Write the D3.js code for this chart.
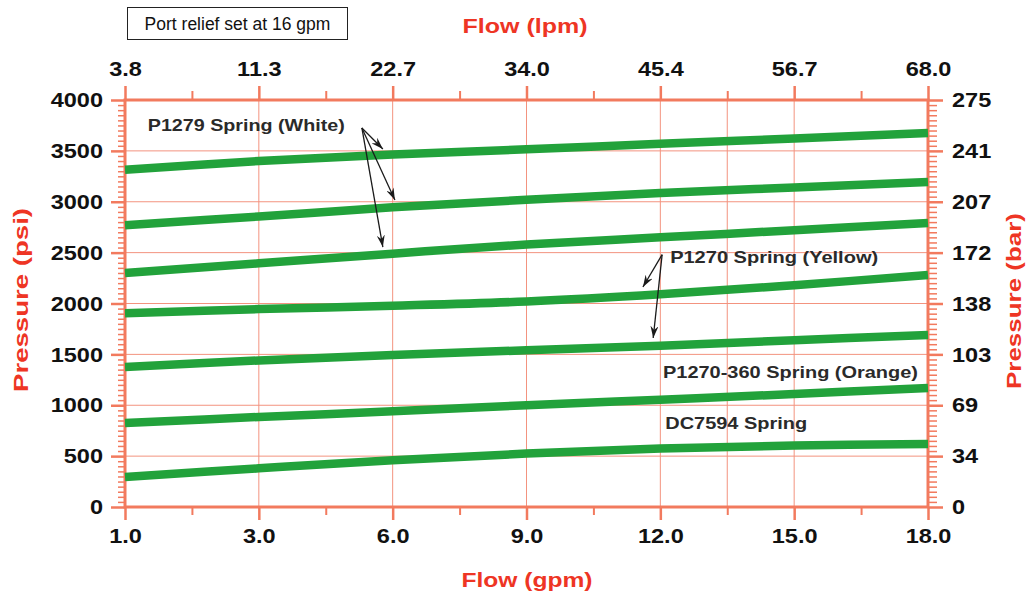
<!DOCTYPE html>
<html><head><meta charset="utf-8">
<script src="https://cdn.jsdelivr.net/npm/d3@7"></script>
<style>
html,body{margin:0;padding:0;background:#fff;}
svg{display:block;font-family:"Liberation Sans",Arial,sans-serif;}
</style></head>
<body><svg id="c" width="1031" height="596"></svg>
<script>
// ---- data ----
const gpmTicks = [1, 3, 6, 9, 12, 15, 18];
const lpmLabels = ["3.8", "11.3", "22.7", "34.0", "45.4", "56.7", "68.0"];
const gpmMinor = [2, 4.5, 7.5, 10.5, 13.5, 16.5];
const gpmExtraGrid = [13.5];
const psiTicks = [0, 500, 1000, 1500, 2000, 2500, 3000, 3500, 4000];
const barLabels = ["0", "34", "69", "103", "138", "172", "207", "241", "275"];
const flowPts = [1, 3, 6, 9, 12, 15, 18];
const p1279High = [3315, 3400, 3465, 3515, 3570, 3622, 3675];
const p1279Mid  = [2770, 2855, 2945, 3020, 3085, 3140, 3195];
const p1279Low  = [2300, 2395, 2490, 2580, 2650, 2720, 2790];
const p1270High = [1905, 1945, 1978, 2020, 2090, 2180, 2280];
const p1270Low  = [1375, 1440, 1495, 1540, 1585, 1640, 1690];
const p1270_360 = [825, 885, 940, 1000, 1055, 1110, 1170];
const dc7594    = [295, 380, 460, 525, 575, 605, 620];
const seriesList = [p1279High, p1279Mid, p1279Low, p1270High, p1270Low, p1270_360, dc7594];
const boxText = "Port relief set at 16 gpm";

// ---- layout ----
const L = 125, R = 928, T = 100, B = 507;
const svg = d3.select("#c");
const step = (R - L) / (gpmTicks.length - 1);
const x = d3.scaleLinear().domain(gpmTicks).range(gpmTicks.map((d, i) => L + i * step));
const y = d3.scaleLinear().domain([0, 4000]).range([B, T]);
const AX = "#f27a5e", GRID = "#f3937f", RED = "#ee3524", GREEN = "#22a23b", TXT = "#2a2a2a";
const FF = '"Liberation Sans",Arial,sans-serif';

function stretch(sel, f) {
  sel.each(function () {
    const w = this.getComputedTextLength();
    d3.select(this).attr("textLength", w * f).attr("lengthAdjust", "spacingAndGlyphs");
  });
}

// gridlines
const g = svg.append("g");
g.selectAll(".hg").data(psiTicks).join("line")
  .attr("x1", L).attr("x2", R).attr("y1", d => y(d)).attr("y2", d => y(d))
  .attr("stroke", GRID).attr("stroke-width", 1);
g.selectAll(".vg").data(gpmTicks.concat(gpmExtraGrid)).join("line")
  .attr("y1", T).attr("y2", B).attr("x1", d => x(d)).attr("x2", d => x(d))
  .attr("stroke", GRID).attr("stroke-width", 1);

// axes
function styleAxis(sel, w) {
  sel.select(".domain").remove();
  sel.selectAll(".tick line").attr("stroke", AX).attr("stroke-width", w);
  sel.selectAll(".tick text").attr("fill", "#111").attr("font-family", FF)
    .attr("font-weight", "bold").attr("font-size", 21);
}
const psiMinor = d3.range(0, 4001, 50).filter(d => d % 500 !== 0);

// left
svg.append("g").attr("transform", `translate(${L},0)`)
  .call(d3.axisLeft(y).tickValues(psiMinor).tickSize(7).tickFormat(""))
  .call(s => styleAxis(s, 1.5));
const la = svg.append("g").attr("transform", `translate(${L},0)`)
  .call(d3.axisLeft(y).tickValues(psiTicks).tickSize(14).tickPadding(8).tickFormat(d3.format("d")))
  .call(s => styleAxis(s, 2.5));
// right
svg.append("g").attr("transform", `translate(${R},0)`)
  .call(d3.axisRight(y).tickValues(psiMinor).tickSize(9).tickFormat(""))
  .call(s => styleAxis(s, 1.5));
const ra = svg.append("g").attr("transform", `translate(${R},0)`)
  .call(d3.axisRight(y).tickValues(psiTicks).tickSize(15).tickPadding(9).tickFormat((d, i) => barLabels[i]))
  .call(s => styleAxis(s, 2.5));
// bottom
svg.append("g").attr("transform", `translate(0,${B})`)
  .call(d3.axisBottom(x).tickValues(gpmMinor).tickSize(8).tickFormat(""))
  .call(s => styleAxis(s, 2));
const ba = svg.append("g").attr("transform", `translate(0,${B})`)
  .call(d3.axisBottom(x).tickValues(gpmTicks).tickSize(13).tickPadding(8).tickFormat(d3.format(".1f")))
  .call(s => styleAxis(s, 2.5));
// top
svg.append("g").attr("transform", `translate(0,${T})`)
  .call(d3.axisTop(x).tickValues(gpmMinor).tickSize(9).tickFormat(""))
  .call(s => styleAxis(s, 2));
const ta = svg.append("g").attr("transform", `translate(0,${T})`)
  .call(d3.axisTop(x).tickValues(gpmTicks).tickSize(14).tickPadding(10).tickFormat((d, i) => lpmLabels[i]))
  .call(s => styleAxis(s, 2.5));

[la, ra, ba, ta].forEach(a => stretch(a.selectAll(".tick text"), 1.12));

// frame
svg.append("rect").attr("x", L).attr("y", T).attr("width", R - L).attr("height", B - T)
  .attr("fill", "none").attr("stroke", AX).attr("stroke-width", 3);

// series
const line = d3.line().x(d => x(d[0])).y(d => y(d[1])).curve(d3.curveCatmullRom.alpha(0.5));
svg.append("g").selectAll("path").data(seriesList).join("path")
  .attr("d", s => line(flowPts.map((f, i) => [f, s[i]])))
  .attr("fill", "none").attr("stroke", GREEN).attr("stroke-width", 8.5);

// titles
function title(txt, tx, ty, rot, w) {
  const t = svg.append("text").text(txt).attr("fill", RED).attr("font-family", FF)
    .attr("font-weight", "bold").attr("font-size", 21).attr("text-anchor", "middle")
    .attr("transform", `translate(${tx},${ty}) rotate(${rot})`);
  t.attr("textLength", w).attr("lengthAdjust", "spacingAndGlyphs");
}
title("Flow (lpm)", 525, 33, 0, 125);
title("Flow (gpm)", 527, 587, 0, 131);
title("Pressure (psi)", 28, 300, -90, 184);
title("Pressure (bar)", 1021, 301, -90, 176);

// port relief box
svg.append("rect").attr("x", 127.5).attr("y", 7.5).attr("width", 220).attr("height", 32)
  .attr("fill", "#fff").attr("stroke", "#222").attr("stroke-width", 1);
svg.append("text").text(boxText).attr("x", 237.5).attr("y", 30).attr("text-anchor", "middle")
  .attr("font-family", FF).attr("font-size", 17.5).attr("fill", "#111");

// annotations (data coords)
const labels = [
  {t: "P1279 Spring (White)", gpm: 1.34, psi: 3695, w: 197},
  {t: "P1270 Spring (Yellow)", gpm: 12.22, psi: 2398, w: 208},
  {t: "P1270-360 Spring (Orange)", gpm: 12.06, psi: 1268, w: 255},
  {t: "DC7594 Spring", gpm: 12.11, psi: 767, w: 142}
];
svg.append("g").selectAll("text").data(labels).join("text")
  .attr("x", d => x(d.gpm)).attr("y", d => y(d.psi)).text(d => d.t)
  .attr("font-family", FF).attr("font-weight", "bold").attr("font-size", 17).attr("fill", TXT)
  .attr("textLength", d => d.w).attr("lengthAdjust", "spacingAndGlyphs");

svg.append("defs").append("marker").attr("id", "ah").attr("viewBox", "0 0 12 8")
  .attr("refX", 12).attr("refY", 4).attr("markerWidth", 12).attr("markerHeight", 8)
  .attr("markerUnits", "userSpaceOnUse").attr("orient", "auto")
  .append("path").attr("d", "M0,0 L12,4 L0,8 L4,4 Z").attr("fill", "#1a1a1a");

const arrows = [
  {from: [5.31, 3725], to: [5.78, 3518]},
  {from: [5.31, 3725], to: [6.05, 3017]},
  {from: [5.31, 3725], to: [5.78, 2555]},
  {from: [12.04, 2480], to: [11.61, 2162]},
  {from: [12.04, 2480], to: [11.84, 1661]}
];
svg.append("g").selectAll("line").data(arrows).join("line")
  .attr("x1", d => x(d.from[0])).attr("y1", d => y(d.from[1]))
  .attr("x2", d => x(d.to[0])).attr("y2", d => y(d.to[1]))
  .attr("stroke", "#1a1a1a").attr("stroke-width", 1.3).attr("marker-end", "url(#ah)");
</script></body></html>
